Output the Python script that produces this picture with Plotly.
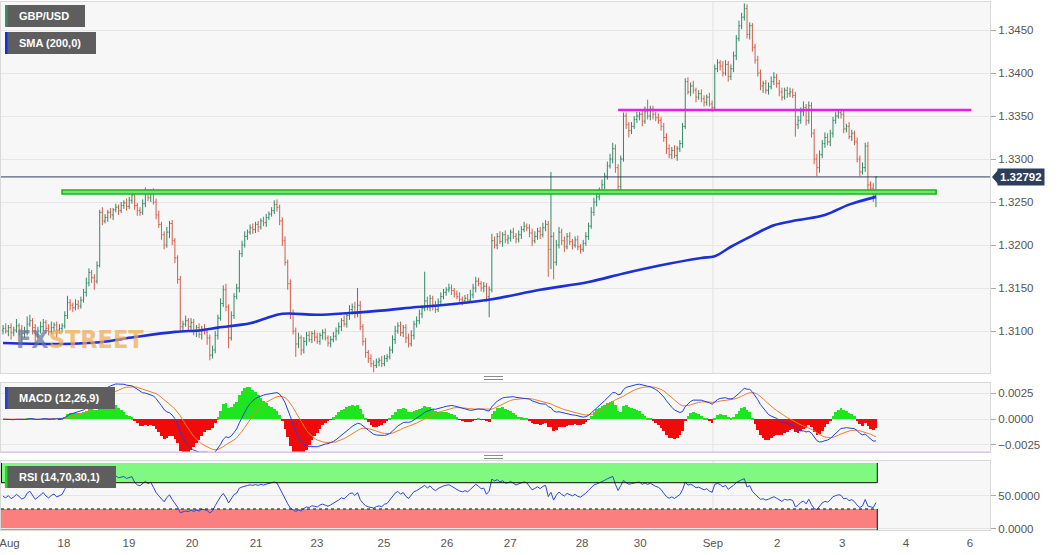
import numpy as np
import plotly.graph_objects as go

# ---------------- DATA ----------------
# Hourly GBP/USD closes, in pips above 1.3000
OPEN0 = 101
CLOSE_PIPS = [
    103, 100, 104, 98, 101, 106, 102, 97, 99, 108, 112, 104, 96, 100, 105, 110, 103, 99, 104, 107, 101, 103, 106,
    118, 133, 130, 127, 131, 129, 136,
    145, 156, 168, 162, 158, 176,
    238, 228,
    232, 238, 235, 241, 244, 240, 246, 249, 245, 252, 258,
    246, 240, 238, 248, 260,
    255, 262, 250,
    235, 224, 212, 200, 215, 225, 205, 185,
    160, 105,
    108, 112, 105, 110, 100, 104, 96, 102, 99, 92,
    72, 78,
    95, 115, 132, 148, 128, 92, 118, 140, 150,
    190, 200, 210,
    215, 220, 218, 224, 221, 228, 226, 232, 236,
    240, 247, 244,
    228, 205, 180, 155, 120,
    100, 85, 92, 78, 88,
    95, 90, 97, 93, 88, 95, 98, 92, 86, 90, 94,
    100, 105, 112, 108, 118, 125, 128, 120, 130,
    105, 88, 75, 68, 62, 60,
    64, 66, 62, 68, 70,
    78, 90, 100, 106, 98, 104, 92, 85, 95, 108, 112,
    120, 126, 135, 128, 138, 130, 125, 134, 140,
    145, 148, 150, 147, 143, 140, 137, 135, 138, 136, 142, 150, 158, 155, 150, 152, 140,
    148, 205,
    200, 210, 204, 212, 206, 208, 215, 210, 207, 212,
    218, 222, 220, 214, 205, 210, 216, 212, 220, 224,
    195, 210, 180, 200,
    215, 205, 198, 210, 204, 200, 206, 198, 195, 202,
    210, 222, 238, 250, 256,
    262, 270, 280, 292, 300, 312, 290, 268, 300,
    350,
    340, 333, 338, 346, 350, 352, 344, 355, 350, 358, 352, 348,
    345, 338,
    325, 312,
    305, 310, 304, 312, 318, 338,
    390,
    378, 385, 380, 372, 376, 370, 366, 372, 364, 360,
    405, 412, 408, 400, 410, 396, 405,
    420, 440, 455, 465,
    475, 445, 455, 430, 415,
    400, 385, 388, 380, 384, 390, 395, 388,
    378, 372, 380, 376, 378, 374,
    340, 345,
    355, 360, 345, 362,
    330, 300, 290,
    305, 318, 325, 320, 330,
    345, 350, 354, 352,
    335, 338, 326, 330, 320,
    300, 285, 290, 315,
    270, 266, 258, 279,
]
UPPER_WICK = [
    4, 6, 3, 5, 4, 8, 3, 5, 6, 9, 7, 3, 4, 5, 6, 4, 3, 5, 7, 3, 4, 5, 3,
    5, 8, 4, 3, 6, 5, 4,
    4, 6, 5, 3, 4, 5,
    3, 6,
    4, 3, 5, 2, 4, 3, 4, 3, 5, 4, 6,
    2, 3, 4, 5, 7,
    5, 3, 4,
    4, 5, 3, 4, 6, 3, 4, 3,
    3, 4,
    4, 6, 3, 5, 4, 3, 5, 4, 6, 3,
    4, 5,
    5, 4, 6, 5, 7, 3, 5, 4, 5,
    4, 5, 6,
    3, 4, 5, 3, 4, 3, 5, 4, 3,
    4, 5, 6,
    3, 4, 5, 3, 5,
    5, 4, 6, 3, 5,
    4, 5, 3, 4, 5, 3, 4, 5, 3, 4, 5,
    4, 5, 3, 6, 4, 5, 4, 6, 20,
    5, 3, 4, 3, 5, 4,
    4, 3, 5, 4, 3,
    4, 5, 6, 4, 5, 3, 4, 5, 6, 4, 5,
    5, 4, 34, 5, 4, 3, 5, 4, 5,
    4, 3, 5, 4, 3, 4, 5, 3, 4, 5, 6, 5, 5, 4, 3, 5, 4,
    4, 8,
    5, 4, 6, 3, 5, 4, 3, 5, 4, 5,
    4, 5, 3, 4, 5, 6, 4, 5, 6, 5,
    4, 75, 5, 6,
    6, 4, 5, 4, 5, 3, 4, 5, 3, 4,
    5, 4, 6, 5, 4,
    5, 6, 4, 5, 6, 7, 5, 4, 4,
    4,
    4, 3, 5, 4, 5, 3, 4, 6, 14, 4, 4, 3,
    5, 4,
    4, 5,
    5, 4, 6, 3, 4, 4,
    4,
    5, 4, 6, 3, 4, 5, 4, 3, 5, 4,
    5, 4, 3, 6, 5, 4, 5,
    5, 4, 6, 5,
    6, 5, 4, 3, 4,
    5, 4, 3, 4, 5, 6, 6, 4,
    4, 5, 3, 4, 5, 4,
    4, 5,
    5, 7, 4, 5,
    4, 5, 6,
    5, 4, 6, 5, 4,
    4, 5, 3, 4,
    4, 3, 5, 4, 3,
    5, 4, 6, 4,
    5, 4, 6, 1,
]
LOWER_WICK = [
    5, 3, 6, 8, 4, 3, 7, 10, 5, 4, 3, 8, 12, 4, 3, 5, 6, 4, 3, 5, 8, 4, 5,
    3, 4, 6, 5, 3, 4, 3,
    3, 5, 4, 6, 10, 3,
    2, 5,
    3, 5, 4, 6, 3, 5, 3, 4, 5, 3, 4,
    5, 6, 4, 3, 4,
    4, 5, 3,
    5, 4, 6, 5, 3, 7, 5, 6,
    5, 6,
    5, 3, 6, 4, 5, 7, 4, 6, 3, 8,
    6, 4,
    4, 5, 3, 4, 5, 12, 3, 4, 3,
    5, 4, 3,
    4, 3, 5, 4, 6, 3, 4, 5, 3,
    3, 4, 5,
    5, 6, 4, 7, 6,
    4, 15, 5, 6, 4,
    5, 3, 4, 5, 3, 4, 5, 3, 4, 5, 3,
    5, 4, 5, 3, 4, 5, 6, 5, 4,
    4, 5, 6, 5, 4, 8,
    3, 5, 4, 3, 4,
    3, 4, 5, 3, 4, 5, 6, 4, 3, 5, 4,
    4, 5, 3, 4, 5, 6, 4, 3, 4,
    3, 4, 3, 5, 4, 3, 4, 5, 3, 4, 3, 4, 5, 3, 4, 5, 6,
    24, 3,
    4, 5, 3, 6, 4, 5, 4, 3, 5, 4,
    5, 3, 4, 5, 6, 3, 4, 5, 3, 4,
    32, 23, 20, 4,
    4, 5, 6, 3, 4, 5, 3, 4, 5, 3,
    3, 4, 3, 4, 5,
    4, 3, 5, 4, 3, 5, 6, 7, 5,
    3,
    5, 8, 4, 3, 4, 5, 6, 3, 4, 5, 6, 4,
    4, 5,
    5, 6,
    4, 5, 3, 6, 4, 5,
    3,
    3, 5, 4, 6, 3, 4, 5, 4, 3, 5,
    3, 4, 5, 4, 3, 6, 4,
    4, 5, 3, 4,
    4, 5, 6, 5, 4,
    4, 5, 8, 4, 5, 3, 4, 5,
    5, 4, 3, 5, 4, 3,
    14, 5,
    4, 5, 6, 4,
    5, 6, 10,
    6, 4, 5, 4, 5,
    5, 4, 3, 5,
    5, 4, 3, 5, 4,
    4, 5, 3, 5,
    6, 5, 8, 14,
]
# 200-period SMA (hour index -> price)
SMA_HOUR = [0, 22, 36, 49, 64, 74, 80, 92, 98, 104, 117, 129, 142, 154, 163, 182, 200,
            218, 231, 244, 260, 265, 271, 279, 287, 296, 306, 315, 325]
SMA_VAL = [1.3086, 1.3085, 1.3087, 1.3093, 1.3099, 1.3101, 1.3104, 1.3109, 1.3115, 1.3120,
           1.3119, 1.3121, 1.3124, 1.3128, 1.3130, 1.3137, 1.3148, 1.3157, 1.3167, 1.3176,
           1.3185, 1.3187, 1.3198, 1.3211, 1.3223, 1.3229, 1.3235, 1.3247, 1.3256]
# date labels (hour index of each label)
TICK_HOUR = [2.4, 22.7, 46.9, 70.4, 94.2, 116.9, 141.8, 165.3, 188.8, 215.6, 237.2, 264.3, 288.2, 312.4, 336.2, 360.0]
TICK_TEXT = ["Aug", "18", "19", "20", "21", "23", "25", "26", "27", "28", "30", "Sep", "2", "3", "4", "6"]
SEP_HOUR = 264.3
LAST_PRICE = 1.32792
SUPPORT_ZONE = (1.32593, 1.32640)
RESIST_LEVEL = 1.3357
ZONE_HOURS = (22.0, 347.4)
RESIST_HOURS = (229.0, 360.5)
PRICE_TICKS = [1.3100, 1.3150, 1.3200, 1.3250, 1.3300, 1.3350, 1.3400, 1.3450]

assert len(CLOSE_PIPS) == len(UPPER_WICK) == len(LOWER_WICK), (len(CLOSE_PIPS), len(UPPER_WICK), len(LOWER_WICK))

# ---------------- derived ----------------
N = len(CLOSE_PIPS)
cp = np.array(CLOSE_PIPS, float)
op = np.concatenate([[OPEN0], cp[:-1]])
hp = np.maximum(op, cp) + np.array(UPPER_WICK)
lp = np.minimum(op, cp) - np.array(LOWER_WICK)
close = 1.3 + cp / 1e4
opn = 1.3 + op / 1e4
high = 1.3 + hp / 1e4
low = 1.3 + lp / 1e4
x = np.arange(N)


def ema(a, n):
    k = 2.0 / (n + 1)
    out = np.empty_like(a)
    out[0] = a[0]
    for i in range(1, len(a)):
        out[i] = k * a[i] + (1 - k) * out[i - 1]
    return out


macd = ema(close, 12) - ema(close, 26)
signal = ema(macd, 9)
hist = 2 * (macd - signal)   # histogram convention used by this chart (2 x (DIF - DEA))

d = np.diff(close, prepend=opn[0])
gain = np.clip(d, 0, None)
loss = np.clip(-d, 0, None)
ag = np.empty(N)
al = np.empty(N)
ag[0] = gain[:14].mean()
al[0] = loss[:14].mean()
for i in range(1, N):
    ag[i] = (ag[i - 1] * 13 + gain[i]) / 14
    al[i] = (al[i - 1] * 13 + loss[i]) / 14
rsi = 100 - 100 / (1 + ag / al)

# ---------------- layout helpers (pixels -> paper) ----------------
W, H = 1060, 555
PX_PER_H = 2.686
X0PX = 3


def px(v):
    return v / W


def py(v):
    return 1 - v / H


def hour_at(pxv):
    return (pxv - X0PX) / PX_PER_H


XR = [hour_at(1), hour_at(990)]
PRICE_RANGE = [1.30512, 1.34826]
MACD_RANGE = [-0.00319, 0.00351]
RSI_RANGE = [-2.0, 103.0]

fig = go.Figure()
fig.add_trace(go.Ohlc(x=x, open=opn, high=high, low=low, close=close,
                      increasing=dict(line=dict(color="#2e8a64", width=1)),
                      decreasing=dict(line=dict(color="#d35d48", width=1)),
                      tickwidth=0.4, xaxis="x", yaxis="y", hoverinfo="skip"))
fig.add_trace(go.Scatter(x=SMA_HOUR, y=SMA_VAL, mode="lines", line=dict(color="#1c2fd8", width=2.6, shape="spline"),
                         xaxis="x", yaxis="y", hoverinfo="skip"))
fig.add_trace(go.Bar(x=x, y=hist, marker=dict(color=np.where(hist >= 0, "#1ee61e", "#f00a0a"), line=dict(width=0)),
                     width=1.0, xaxis="x2", yaxis="y2", hoverinfo="skip"))
fig.add_trace(go.Scatter(x=x, y=signal, mode="lines", line=dict(color="#f07f2a", width=1), xaxis="x2", yaxis="y2"))
fig.add_trace(go.Scatter(x=x, y=macd, mode="lines", line=dict(color="#2040e0", width=1), xaxis="x2", yaxis="y2"))
fig.add_trace(go.Scatter(x=x, y=rsi, mode="lines", line=dict(color="#2a48d8", width=1), xaxis="x3", yaxis="y3"))

border = "#d9d9d9"
tickfont = dict(family="Arial, Liberation Sans, sans-serif", size=11.5, color="#555555")
common_x = dict(range=XR, domain=[px(1), px(990)], showgrid=False, zeroline=False, showline=True, mirror=True,
                linecolor=border, linewidth=1, fixedrange=True, automargin=False)
common_y = dict(side="right", showgrid=True, gridcolor="#e6e6e6", zeroline=False, showline=True, mirror=True,
                linecolor=border, linewidth=1, ticks="outside", ticklen=5, tickcolor="#aaaaaa",
                tickfont=tickfont, ticklabelstandoff=0, automargin=False)

fig.update_layout(
    width=W, height=H, autosize=False, margin=dict(l=0, r=0, t=0, b=0, pad=0), paper_bgcolor="white",
    plot_bgcolor="#f7f7f7", showlegend=False, bargap=0,
    xaxis=dict(common_x, anchor="y", showticklabels=False, rangeslider=dict(visible=False)),
    xaxis2=dict(common_x, anchor="y2", showticklabels=False, matches="x"),
    xaxis3=dict(common_x, anchor="y3", matches="x", tickmode="array", tickvals=TICK_HOUR, ticktext=TICK_TEXT,
                ticks="", tickfont=tickfont, ticklabeloverflow="allow", ticklabelstandoff=2),
    yaxis=dict(common_y, domain=[py(373), py(2)], range=PRICE_RANGE, tickvals=PRICE_TICKS, tickformat=".4f",
               anchor="x"),
    yaxis2=dict(common_y, domain=[py(452), py(383)], range=MACD_RANGE, tickvals=[-0.0025, 0, 0.0025],
                tickformat=".4f", anchor="x2"),
    yaxis3=dict(common_y, domain=[py(530), py(461)], range=RSI_RANGE, tickvals=[0, 50],
                ticktext=["0.0000", "50.0000"], anchor="x3"),
)

shapes = []
# Sep vertical gridline across panels
for xr, yr in (("x", "y"), ("x2", "y2"), ("x3", "y3")):
    shapes.append(dict(type="line", xref=xr, yref=yr + " domain", x0=SEP_HOUR, x1=SEP_HOUR, y0=0, y1=1,
                       line=dict(color="#e2e2e2", width=1), layer="below"))
# RSI bands
shapes.append(dict(type="rect", xref="x3", yref="y3", x0=XR[0], x1=N - 0.5, y0=70, y1=100,
                   fillcolor="#80f980", line=dict(width=0), layer="below"))
shapes.append(dict(type="rect", xref="x3", yref="y3", x0=XR[0], x1=N - 0.5, y0=RSI_RANGE[0], y1=30,
                   fillcolor="#fb7f7f", line=dict(width=0), layer="below"))
shapes.append(dict(type="line", xref="x3", yref="y3", x0=XR[0], x1=N - 0.5, y0=70, y1=70,
                   line=dict(color="#111111", width=1)))
shapes.append(dict(type="line", xref="x3", yref="y3", x0=XR[0], x1=N - 0.5, y0=30, y1=30,
                   line=dict(color="#111111", width=1, dash="dot")))
for y0, y1 in ((70, 100), (RSI_RANGE[0], 30)):
    shapes.append(dict(type="line", xref="x3", yref="y3", x0=N - 0.5, x1=N - 0.5, y0=y0, y1=y1,
                       line=dict(color="#111111", width=1)))
shapes.append(dict(type="line", xref="x3", yref="y3", x0=hour_at(1.5), x1=hour_at(1.5), y0=70, y1=100,
                   line=dict(color="#111111", width=1)))
# support zone, resistance line, last price line
shapes.append(dict(type="rect", xref="x", yref="y", x0=ZONE_HOURS[0], x1=ZONE_HOURS[1],
                   y0=SUPPORT_ZONE[0], y1=SUPPORT_ZONE[1], fillcolor="#6fe86f",
                   line=dict(color="#1fb21f", width=1.6)))
shapes.append(dict(type="line", xref="x", yref="y", x0=RESIST_HOURS[0], x1=RESIST_HOURS[1],
                   y0=RESIST_LEVEL, y1=RESIST_LEVEL, line=dict(color="#e81ee8", width=2.4)))
shapes.append(dict(type="line", xref="x domain", yref="y", x0=0, x1=1, y0=LAST_PRICE, y1=LAST_PRICE,
                   line=dict(color="#2c3e5a", width=1)))
# price tag pointer
dy = 7 * (PRICE_RANGE[1] - PRICE_RANGE[0]) / 371
shapes.append(dict(type="path", xref="paper", yref="y",
                   path=f"M {px(992)},{LAST_PRICE} L {px(998)},{LAST_PRICE + dy} L {px(998)},{LAST_PRICE - dy} Z",
                   fillcolor="#2c3e5a", line=dict(width=0)))
# panel resize handles
for yy in (376.5, 379.5, 455.5, 458.5):
    shapes.append(dict(type="line", xref="paper", yref="paper", x0=px(484), x1=px(503), y0=py(yy), y1=py(yy),
                       line=dict(color="#8a8a8a", width=1)))
# MACD panel bottom border tint
shapes.append(dict(type="line", xref="paper", yref="paper", x0=px(1), x1=px(990), y0=py(452), y1=py(452),
                   line=dict(color="#dcb8ea", width=1)))

# legend boxes
boxes = [
    ("GBP/USD", 5, 85, 5, 27, "#3f8c6c"),
    ("SMA (200,0)", 5, 96, 32, 54, "#1030e6"),
    ("MACD (12,26,9)", 5, 115, 387, 409, "#2040e0"),
    ("RSI (14,70,30,1)", 5, 116, 466, 488, "#22d622"),
]
annotations = []
for text, bx0, bx1, by0, by1, stripe in boxes:
    shapes.append(dict(type="rect", xref="paper", yref="paper", x0=px(bx0), x1=px(bx1), y0=py(by1), y1=py(by0),
                       fillcolor="#5e5e5e", line=dict(width=0)))
    shapes.append(dict(type="rect", xref="paper", yref="paper", x0=px(bx0), x1=px(bx0 + 2.5), y0=py(by1),
                       y1=py(by0), fillcolor=stripe, line=dict(width=0)))
    annotations.append(dict(xref="paper", yref="paper", x=px(bx0 + 12), y=py((by0 + by1) / 2), text=f"<b>{text}</b>",
                            showarrow=False, xanchor="left", yanchor="middle",
                            font=dict(family="Arial, Liberation Sans, sans-serif", size=11, color="white")))

annotations.append(dict(xref="paper", yref="y", x=px(997), y=LAST_PRICE, text=f"<b>{LAST_PRICE:.5f}</b>",
                        showarrow=False, xanchor="left", yanchor="middle", bgcolor="#2c3e5a", borderpad=2,
                        font=dict(family="Arial, Liberation Sans, sans-serif", size=11.5, color="white")))
annotations.append(dict(xref="paper", yref="paper", x=px(14), y=py(339),
                        text='<b><span style="color:rgba(100,115,155,0.72)">FX</span>'
                             '<span style="color:rgba(242,170,80,0.72)">STREET</span></b>',
                        showarrow=False, xanchor="left", yanchor="middle",
                        font=dict(family="DejaVu Sans Condensed, Liberation Sans, Arial", size=25)))

fig.update_layout(shapes=shapes, annotations=annotations)
fig.write_html("out.html", config={"displayModeBar": False},
               post_script="document.body.style.margin='0px';document.body.style.overflow='hidden';")
